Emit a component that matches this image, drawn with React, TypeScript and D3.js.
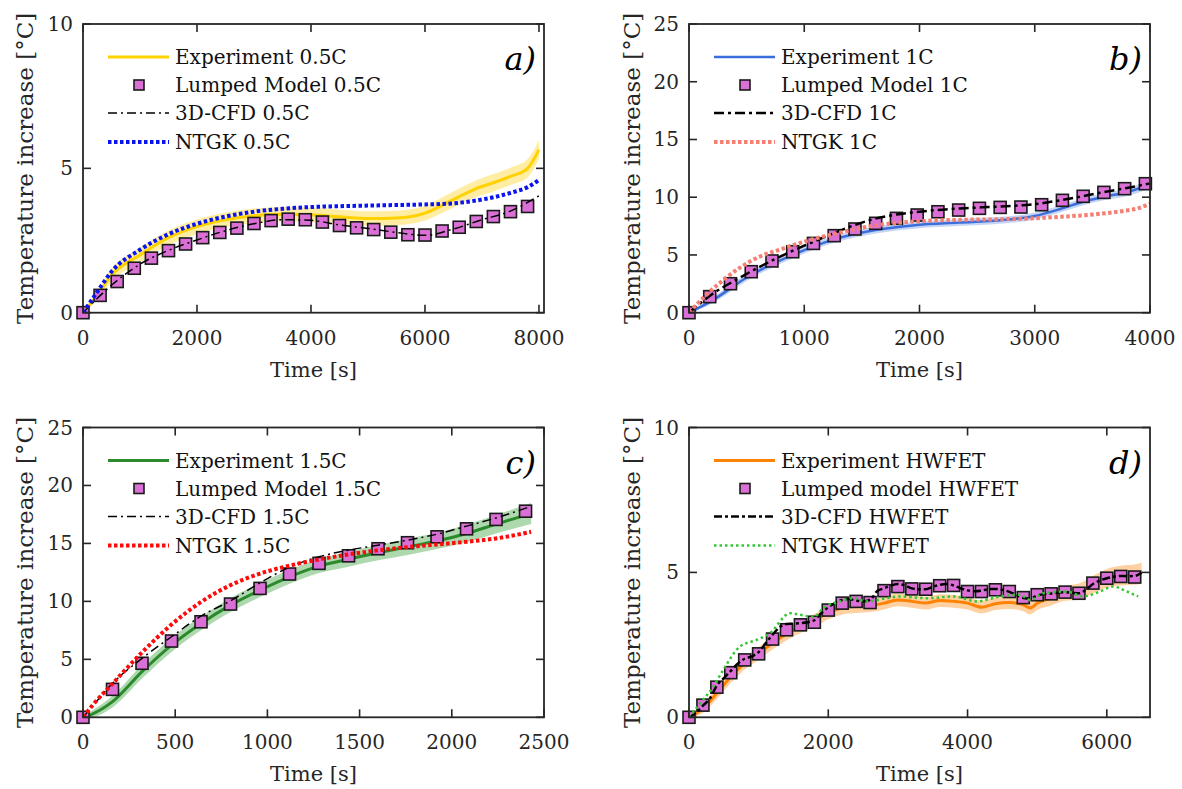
import React from 'react';
import * as d3 from 'd3';

const FONT = '"DejaVu Serif", "Liberation Serif", serif';
const AXIS = '#262626';
const MARK_FILL = '#DA6FD6';

// ---------- Panel a (0.5C) ----------
const aLumpT = [0,300,600,900,1200,1500,1800,2100,2400,2700,3000,3300,3600,3900,4200,4500,4800,5100,5400,5700,6000,6300,6600,6900,7200,7500,7800];
const aLumpV = [0,0.6,1.08,1.54,1.89,2.15,2.38,2.6,2.78,2.93,3.09,3.19,3.24,3.22,3.14,3.02,2.94,2.88,2.79,2.7,2.69,2.83,2.96,3.16,3.33,3.5,3.68];
const aExpT = [0,250,500,1000,1500,2000,2500,3000,3500,4000,4500,5000,5500,6000,6300,6600,6900,7200,7500,7800,8000];
const aExpV = [0,0.6,1.3,2.0,2.6,2.98,3.22,3.36,3.41,3.39,3.32,3.26,3.28,3.45,3.72,4.02,4.3,4.5,4.72,5.0,5.65];
const aExpBand = [0.05,0.15,0.22,0.25,0.25,0.25,0.25,0.25,0.25,0.25,0.25,0.25,0.25,0.26,0.27,0.28,0.29,0.3,0.3,0.32,0.32];
const aCfdT = [0,500,1000,1500,2000,2500,3000,3500,4000,4500,5000,5500,6000,6500,7000,7500,8000];
const aCfdV = [0,0.95,1.68,2.16,2.52,2.84,3.08,3.22,3.2,3.04,2.92,2.78,2.68,2.9,3.22,3.52,4.05];
const aNtgkT = [0,250,500,1000,1500,2000,2500,3000,3500,4000,4500,5000,5500,6000,6500,7000,7500,7800,8000];
const aNtgkV = [0,0.72,1.42,2.18,2.72,3.08,3.33,3.5,3.6,3.66,3.69,3.71,3.73,3.75,3.79,3.92,4.15,4.35,4.6];

// ---------- Panel b (1C) ----------
const bLumpT = [0,180,360,540,720,900,1080,1260,1440,1620,1800,1980,2160,2340,2520,2700,2880,3060,3240,3420,3600,3780,3960];
const bLumpV = [0,1.39,2.51,3.55,4.48,5.28,6.0,6.67,7.25,7.74,8.17,8.46,8.74,8.89,9.04,9.12,9.15,9.35,9.73,10.08,10.42,10.74,11.17];
const bExpT = [0,200,500,900,1260,1620,1980,2340,2700,3000,3240,3420,3600,3780,3960,4000];
const bExpV = [0,1.05,3.05,5.0,6.35,7.16,7.6,7.8,8.0,8.37,9.04,9.61,10.04,10.39,10.95,11.1];
const bExpBand = [0.1,0.25,0.3,0.3,0.3,0.3,0.3,0.3,0.3,0.3,0.3,0.3,0.3,0.35,0.35,0.35];
const bCfdT = [0,200,400,600,800,1000,1200,1400,1600,1800,2000,2200,2400,2600,2800,3000,3200,3400,3600,3800,4000];
const bCfdV = [0,1.6,2.8,3.9,4.9,5.8,6.65,7.45,8.1,8.5,8.75,8.92,9.05,9.15,9.25,9.4,9.7,10.05,10.45,10.8,11.2];
const bNtgkT = [0,150,300,450,600,800,1000,1280,1610,2000,2400,2700,3000,3230,3500,3780,3900,4000];
const bNtgkV = [0,1.55,2.85,3.95,4.8,5.5,6.15,6.87,7.55,7.92,8.05,8.09,8.18,8.31,8.5,8.83,9.05,9.45];

// ---------- Panel c (1.5C) ----------
const cLumpT = [0,160,320,480,640,800,960,1120,1280,1440,1600,1760,1920,2080,2240,2400];
const cLumpV = [0,2.41,4.66,6.58,8.24,9.77,11.12,12.36,13.28,13.93,14.54,15.06,15.57,16.26,17.07,17.78];
const cExpT = [0,50,160,320,480,640,800,960,1120,1280,1440,1600,1760,1920,2080,2240,2430];
const cExpV = [0,0.28,1.35,3.94,6.23,8.1,9.68,10.97,12.12,13.04,13.64,14.19,14.7,15.22,15.86,16.66,17.58];
const cExpBand = [0.1,0.3,0.5,0.6,0.6,0.6,0.6,0.6,0.6,0.6,0.65,0.65,0.7,0.7,0.75,0.8,0.9];
const cCfdT = [0,80,160,320,480,640,800,960,1120,1280,1440,1600,1760,1920,2080,2240,2430];
const cCfdV = [0,1.5,2.93,5.08,6.95,8.73,10.05,11.6,12.95,13.85,14.42,14.85,15.28,15.8,16.49,17.2,18.2];
const cNtgkT = [0,50,160,320,480,640,800,960,1120,1280,1440,1600,1760,1920,2080,2240,2430];
const cNtgkV = [0,1.0,2.9,5.6,8.0,9.95,11.4,12.4,13.08,13.62,14.05,14.4,14.68,14.91,15.14,15.43,16.0];

// ---------- Panel d (HWFET) ----------
const dLumpT = [0,200,400,600,800,1000,1200,1400,1600,1800,2000,2200,2400,2600,2800,3000,3200,3400,3600,3800,4000,4200,4400,4600,4800,5000,5200,5400,5600,5800,6000,6200,6400];
const dLumpV = [0,0.42,1.04,1.54,1.98,2.19,2.7,3.02,3.19,3.28,3.7,3.94,4.0,3.96,4.37,4.51,4.43,4.42,4.54,4.55,4.34,4.34,4.4,4.34,4.13,4.23,4.26,4.32,4.28,4.63,4.8,4.86,4.84];
const dExpT = [0,200,400,600,800,1000,1200,1400,1600,1800,2000,2200,2400,2600,2800,3000,3200,3400,3600,3800,4000,4200,4400,4600,4800,4900,5000,5200,5400,5600,5800,6000,6200,6400,6500];
const dExpV = [0,0.31,0.83,1.4,1.87,2.21,2.56,2.88,3.13,3.34,3.6,3.77,3.82,3.85,3.94,4.05,4.0,3.94,4.03,4.0,3.94,3.8,3.92,3.96,3.88,3.77,3.94,4.11,4.28,4.34,4.58,4.8,4.89,4.92,4.98];
const dExpBand = [0.05,0.15,0.2,0.22,0.22,0.22,0.22,0.22,0.22,0.22,0.22,0.22,0.22,0.22,0.22,0.22,0.22,0.22,0.22,0.22,0.22,0.22,0.22,0.22,0.22,0.22,0.24,0.25,0.26,0.28,0.3,0.32,0.34,0.35,0.36];
const dCfdT = [0,100,200,300,400,500,600,700,800,900,1000,1100,1200,1300,1400,1500,1600,1700,1800,1900,2000,2100,2200,2300,2400,2500,2600,2700,2800,2900,3000,3100,3200,3300,3400,3500,3600,3700,3800,3900,4000,4100,4200,4300,4400,4500,4600,4700,4800,4900,5000,5100,5200,5300,5400,5500,5600,5700,5800,5900,6000,6100,6200,6300,6400,6500];
const dCfdV = [0,0.15,0.4,0.65,1.1,1.35,1.6,1.85,2.02,2.1,2.25,2.55,2.85,3.1,3.22,3.23,3.25,3.28,3.35,3.6,3.8,3.95,4.05,4.08,4.03,4.0,4.05,4.35,4.45,4.55,4.6,4.55,4.45,4.42,4.42,4.5,4.57,4.6,4.55,4.45,4.38,4.35,4.37,4.42,4.43,4.4,4.33,4.22,4.12,4.1,4.2,4.25,4.27,4.3,4.32,4.3,4.28,4.4,4.6,4.72,4.8,4.85,4.88,4.87,4.88,5.0];
const dNtgkT = [0,160,350,490,730,970,1160,1450,1590,1790,1930,2170,2360,2550,2840,3030,3410,3800,4130,4470,4750,4900,5090,5420,5660,5900,6090,6290,6450];
const dNtgkV = [0,0.48,1.06,1.63,2.44,2.67,2.9,3.59,3.54,3.46,3.77,4.0,4.11,4.0,4.11,4.17,4.11,4.17,4.0,4.17,4.23,4.05,4.28,4.34,4.17,4.34,4.51,4.34,4.17];

const xLabel = 'Time [s]';
const yLabel = 'Temperature increase [°C]';

const panels = [
  {
    id: 'a', letter: 'a)',
    xDomain: [0, 8088], xRange: [83, 544], yDomain: [0, 10], yRange: [312.7, 24],
    xTicks: [0, 2000, 4000, 6000, 8000], yTicks: [0, 5, 10], yLabelX: 25,
    exp: { t: aExpT, v: aExpV, band: aExpBand, color: '#FFD200', bandColor: '#FFDF5A', bandOpacity: 0.55, width: 3 },
    lump: { t: aLumpT, v: aLumpV },
    cfd: { t: aCfdT, v: aCfdV, width: 1.5, dash: '9 4 2 4' },
    ntgk: { t: aNtgkT, v: aNtgkV, color: '#0A14F0', width: 4, dash: '3.5 2.5' },
    legend: ['Experiment 0.5C', 'Lumped Model 0.5C', '3D-CFD 0.5C', 'NTGK 0.5C'],
  },
  {
    id: 'b', letter: 'b)',
    xDomain: [0, 4000], xRange: [689, 1150], yDomain: [0, 25], yRange: [312.7, 24],
    xTicks: [0, 1000, 2000, 3000, 4000], yTicks: [0, 5, 10, 15, 20, 25], yLabelX: 632,
    exp: { t: bExpT, v: bExpV, band: bExpBand, color: '#3B6EDC', bandColor: '#6F95E8', bandOpacity: 0.4, width: 2.5 },
    lump: { t: bLumpT, v: bLumpV },
    cfd: { t: bCfdT, v: bCfdV, width: 2.5, dash: '10 4 3 4' },
    ntgk: { t: bNtgkT, v: bNtgkV, color: '#F47F72', width: 4, dash: '3.5 2.5' },
    legend: ['Experiment 1C', 'Lumped Model 1C', '3D-CFD 1C', 'NTGK 1C'],
  },
  {
    id: 'c', letter: 'c)',
    xDomain: [0, 2500], xRange: [83, 544], yDomain: [0, 25], yRange: [717.3, 427.5],
    xTicks: [0, 500, 1000, 1500, 2000, 2500], yTicks: [0, 5, 10, 15, 20, 25], yLabelX: 25,
    exp: { t: cExpT, v: cExpV, band: cExpBand, color: '#2B8A2B', bandColor: '#4CA84C', bandOpacity: 0.45, width: 3 },
    lump: { t: cLumpT, v: cLumpV },
    cfd: { t: cCfdT, v: cCfdV, width: 1.5, dash: '9 4 2 4' },
    ntgk: { t: cNtgkT, v: cNtgkV, color: '#FF0A0A', width: 4, dash: '3.5 2.5' },
    legend: ['Experiment 1.5C', 'Lumped Model 1.5C', '3D-CFD 1.5C', 'NTGK 1.5C'],
  },
  {
    id: 'd', letter: 'd)',
    xDomain: [0, 6620], xRange: [689, 1150], yDomain: [0, 10], yRange: [717.3, 427.5],
    xTicks: [0, 2000, 4000, 6000], yTicks: [0, 5, 10], yLabelX: 632,
    exp: { t: dExpT, v: dExpV, band: dExpBand, color: '#FF8205', bandColor: '#FFAA55', bandOpacity: 0.55, width: 3 },
    lump: { t: dLumpT, v: dLumpV },
    cfd: { t: dCfdT, v: dCfdV, width: 2.5, dash: '8 3 3 3' },
    ntgk: { t: dNtgkT, v: dNtgkV, color: '#33C733', width: 2.5, dash: '2.5 3' },
    legend: ['Experiment HWFET', 'Lumped model HWFET', '3D-CFD HWFET', 'NTGK HWFET'],
  },
];

function Panel({ p }: { p: any }) {
  const x = d3.scaleLinear().domain(p.xDomain).range(p.xRange);
  const y = d3.scaleLinear().domain(p.yDomain).range(p.yRange);
  const [x0, x1] = p.xRange;
  const [yb, yt] = p.yRange;
  const mk = (ts: number[]) =>
    d3.line<number>().x((_, i) => x(ts[i])).y((d) => y(d)).curve(d3.curveMonotoneX);
  const bandArea = d3
    .area<number>()
    .x((_, i) => x(p.exp.t[i]))
    .y0((d, i) => y(d - p.exp.band[i]))
    .y1((d, i) => y(d + p.exp.band[i]))
    .curve(d3.curveMonotoneX);
  const clipId = 'clip-' + p.id;
  const tickLen = 8;
  const ms = 12;
  const lg = { lx0: x0 + 25, lx1: x0 + 86, tx: x0 + 92, mx: x0 + 56, rows: [33, 61, 89, 118].map((r) => yt + r) };
  const fs = 20;
  return (
    <g>
      <defs>
        <clipPath id={clipId}>
          <rect x={x0} y={yt} width={x1 - x0} height={yb - yt} />
        </clipPath>
      </defs>
      <g clipPath={`url(#${clipId})`}>
        <path d={bandArea(p.exp.v) || ''} fill={p.exp.bandColor} fillOpacity={p.exp.bandOpacity} stroke="none" />
        <path d={mk(p.exp.t)(p.exp.v) || ''} fill="none" stroke={p.exp.color} strokeWidth={p.exp.width} />
      </g>
      {p.lump.v.map((v: number, i: number) => (
        <rect key={i} x={x(p.lump.t[i]) - ms / 2} y={y(v) - ms / 2} width={ms} height={ms}
          fill={MARK_FILL} stroke="#1a1a1a" strokeWidth={1.6} />
      ))}
      <g clipPath={`url(#${clipId})`}>
        <path d={mk(p.cfd.t)(p.cfd.v) || ''} fill="none" stroke="#000" strokeWidth={p.cfd.width} strokeDasharray={p.cfd.dash} />
        <path d={mk(p.ntgk.t)(p.ntgk.v) || ''} fill="none" stroke={p.ntgk.color} strokeWidth={p.ntgk.width} strokeDasharray={p.ntgk.dash} />
      </g>
      <rect x={x0} y={yt} width={x1 - x0} height={yb - yt} fill="none" stroke={AXIS} strokeWidth={1.8} />
      {p.xTicks.map((t: number) => (
        <g key={'xt' + t}>
          <line x1={x(t)} x2={x(t)} y1={yb} y2={yb - tickLen} stroke={AXIS} strokeWidth={1.6} />
          <line x1={x(t)} x2={x(t)} y1={yt} y2={yt + tickLen} stroke={AXIS} strokeWidth={1.6} />
          <text x={x(t)} y={yb + 32} textAnchor="middle" fontFamily={FONT} fontSize={fs} fill={AXIS}>{t}</text>
        </g>
      ))}
      {p.yTicks.map((t: number) => (
        <g key={'yt' + t}>
          <line x1={x0} x2={x0 + tickLen} y1={y(t)} y2={y(t)} stroke={AXIS} strokeWidth={1.6} />
          <line x1={x1} x2={x1 - tickLen} y1={y(t)} y2={y(t)} stroke={AXIS} strokeWidth={1.6} />
          <text x={x0 - 10} y={y(t) + 7} textAnchor="end" fontFamily={FONT} fontSize={fs} fill={AXIS}>{t}</text>
        </g>
      ))}
      <text x={(x0 + x1) / 2} y={yb + 64} textAnchor="middle" fontFamily={FONT} fontSize={21} fill={AXIS}>{xLabel}</text>
      <text transform={`translate(${p.yLabelX},${(yb + yt) / 2}) rotate(-90)`} textAnchor="middle" dominantBaseline="central"
        fontFamily={FONT} fontSize={23} fill={AXIS}>{yLabel}</text>
      <text x={x1 - 8} y={yt + 46} textAnchor="end" fontFamily={FONT} fontStyle="italic" fontSize={32} fill="#000">{p.letter}</text>
      <line x1={lg.lx0} x2={lg.lx1} y1={lg.rows[0]} y2={lg.rows[0]} stroke={p.exp.color} strokeWidth={p.exp.width} />
      <rect x={lg.mx - ms / 2 + 1} y={lg.rows[1] - ms / 2 + 1} width={ms - 2} height={ms - 2} fill={MARK_FILL} stroke="#1a1a1a" strokeWidth={1.6} />
      <line x1={lg.lx0} x2={lg.lx1} y1={lg.rows[2]} y2={lg.rows[2]} stroke="#000" strokeWidth={p.cfd.width} strokeDasharray={p.cfd.dash} />
      <line x1={lg.lx0} x2={lg.lx1} y1={lg.rows[3]} y2={lg.rows[3]} stroke={p.ntgk.color} strokeWidth={p.ntgk.width} strokeDasharray={p.ntgk.dash} />
      {p.legend.map((s: string, i: number) => (
        <text key={s} x={lg.tx} y={lg.rows[i] + 7} fontFamily={FONT} fontSize={fs} fill="#111">{s}</text>
      ))}
    </g>
  );
}

export default function App() {
  return (
    <svg width={1182} height={789} style={{ position: 'absolute', left: 0, top: 0, background: '#fff' }}>
      <rect x={0} y={0} width={1182} height={789} fill="#fff" />
      {panels.map((p) => (
        <Panel key={p.id} p={p} />
      ))}
    </svg>
  );
}
